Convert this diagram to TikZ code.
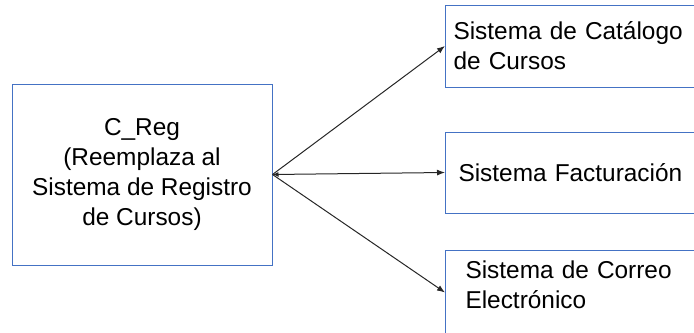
\documentclass[tikz,border=0pt]{standalone}
\usepackage{fontspec}
\setmainfont{Liberation Sans}
\usetikzlibrary{arrows.meta}
\definecolor{boxblue}{RGB}{68,114,196}
\tikzset{
  sysbox/.style={draw=boxblue, line width=0.5pt, font=\fontsize{12.2}{15}\selectfont},
  link/.style={draw=black!85, line width=0.5pt, -{Latex[length=4pt,width=3pt]}}
}
\begin{document}
\begin{tikzpicture}[x=0.5pt, y=-0.5pt]
 \useasboundingbox (0,0) rectangle (694,332);
 \clip (0,0) rectangle (694,332);

 % left box
 \node[sysbox, minimum width=130pt, minimum height=90.5pt, align=center] (creg) at (142,174.5)
   {C\_Reg\\(Reemplaza al\\Sistema de Registro\\de Cursos)};

 % right boxes
 \node[sysbox, anchor=west, minimum height=41pt, text width=122pt, inner xsep=4pt, align=left] (cat) at (445,46)
   {Sistema de Cat\'alogo\\de Cursos};
 \node[sysbox, anchor=west, minimum height=40.5pt, text width=118pt, inner xsep=6.5pt, align=left] (fact) at (445,172.5)
   {Sistema Facturaci\'on};
 \node[sysbox, anchor=west, minimum height=42.5pt, text width=115pt, inner xsep=10pt, align=left] (correo) at (445,292.5)
   {Sistema de Correo\\Electr\'onico\\[-7pt]\mbox{}};

 % lines
 \foreach \dest in {cat, correo}
   \path[link] (creg.east) -- (\dest.west);
 \path[link, {Latex[length=3pt,width=2.5pt]}-{Latex[length=4pt,width=3pt]}] (creg.east) -- (fact.west);

\end{tikzpicture}
\end{document}
